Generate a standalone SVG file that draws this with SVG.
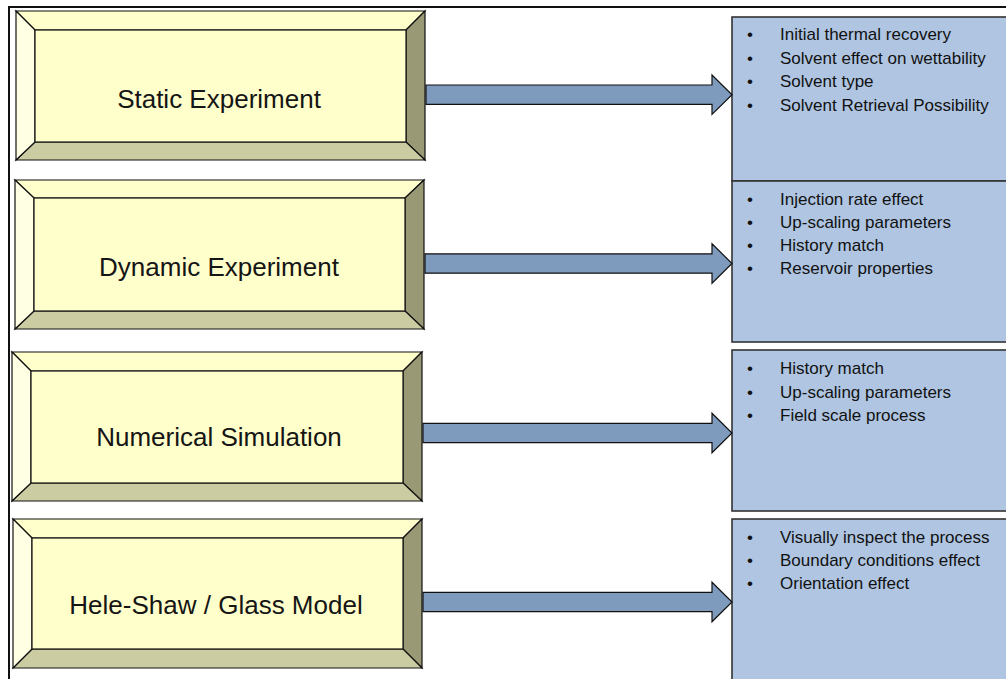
<svg xmlns="http://www.w3.org/2000/svg" width="1006" height="679" viewBox="0 0 1006 679">
<style>
.frame{stroke:#111;stroke-width:2;fill:none}
.bt{fill:#FFFFCC;stroke:#111;stroke-width:1.2;stroke-linejoin:miter}
.bl{fill:#FFFFE4;stroke:#111;stroke-width:1.2}
.br{fill:#999975;stroke:#111;stroke-width:1.2}
.bb{fill:#CCCCA3;stroke:#111;stroke-width:1.2}
.face{fill:#FFFFCC;stroke:#111;stroke-width:1.2}
.title{font-family:"Liberation Sans",Arial,sans-serif;font-size:26px;fill:#151515;text-anchor:middle}
.panel{fill:#AFC5E1;stroke:#333;stroke-width:1.6}
.item{font-family:"Liberation Sans",Arial,sans-serif;font-size:17px;fill:#111}
.arrow{fill:#7E9BBE;stroke:#111;stroke-width:1.2;stroke-linejoin:miter}
</style>
<rect width="1006" height="679" fill="#fff"/>
<path class="frame" d="M9,679 V7 H1006"/>

<g id="node-static">
<polygon class="bt" points="16,11 425,11 406,30 35,30"/>
<polygon class="br" points="425,11 425,160 406,142 406,30"/>
<polygon class="bb" points="16,160 425,160 406,142 35,142"/>
<polygon class="bl" points="16,11 35,30 35,142 16,160"/>
<rect class="face" x="35" y="30" width="371" height="112"/>
<text class="title" x="219" y="108">Static Experiment</text>
</g>

<g id="node-dynamic">
<polygon class="bt" points="15,180 424,180 405,198 34,198"/>
<polygon class="br" points="424,180 424,329 405,311 405,198"/>
<polygon class="bb" points="15,329 424,329 405,311 34,311"/>
<polygon class="bl" points="15,180 34,198 34,311 15,329"/>
<rect class="face" x="34" y="198" width="371" height="113"/>
<text class="title" x="219" y="276">Dynamic Experiment</text>
</g>

<g id="node-numerical">
<polygon class="bt" points="12,352 422,352 403,371 31,371"/>
<polygon class="br" points="422,352 422,501 403,483 403,371"/>
<polygon class="bb" points="12,501 422,501 403,483 31,483"/>
<polygon class="bl" points="12,352 31,371 31,483 12,501"/>
<rect class="face" x="31" y="371" width="372" height="112"/>
<text class="title" x="219" y="446">Numerical Simulation</text>
</g>

<g id="node-heleshaw">
<polygon class="bt" points="13,519 422,519 403,538 32,538"/>
<polygon class="br" points="422,519 422,668 403,649 403,538"/>
<polygon class="bb" points="13,668 422,668 403,649 32,649"/>
<polygon class="bl" points="13,519 32,538 32,649 13,668"/>
<rect class="face" x="32" y="538" width="371" height="111"/>
<text class="title" x="216" y="614">Hele-Shaw / Glass Model</text>
</g>

<g id="panel-static">
<rect class="panel" x="732" y="17" width="290" height="164"/>
<g class="item">
<text x="747" y="40">•</text><text x="780" y="40">Initial thermal recovery</text>
<text x="747" y="63.5">•</text><text x="780" y="63.5">Solvent effect on wettability</text>
<text x="747" y="87">•</text><text x="780" y="87">Solvent type</text>
<text x="747" y="110.5">•</text><text x="780" y="110.5">Solvent Retrieval Possibility</text>
</g>
</g>

<g id="panel-dynamic">
<rect class="panel" x="732" y="181" width="290" height="161"/>
<g class="item">
<text x="747" y="205">•</text><text x="780" y="205">Injection rate effect</text>
<text x="747" y="228">•</text><text x="780" y="228">Up-scaling parameters</text>
<text x="747" y="251">•</text><text x="780" y="251">History match</text>
<text x="747" y="274">•</text><text x="780" y="274">Reservoir properties</text>
</g>
</g>

<g id="panel-numerical">
<rect class="panel" x="732" y="350" width="290" height="161"/>
<g class="item">
<text x="747" y="374">•</text><text x="780" y="374">History match</text>
<text x="747" y="397.5">•</text><text x="780" y="397.5">Up-scaling  parameters</text>
<text x="747" y="420.5">•</text><text x="780" y="420.5">Field scale process</text>
</g>
</g>

<g id="panel-heleshaw">
<rect class="panel" x="732" y="519" width="290" height="180"/>
<g class="item">
<text x="747" y="543">•</text><text x="780" y="543">Visually inspect the process</text>
<text x="747" y="566">•</text><text x="780" y="566">Boundary conditions effect</text>
<text x="747" y="589">•</text><text x="780" y="589">Orientation effect</text>
</g>
</g>

<g id="connectors">
<polygon class="arrow" points="426,85 712,85 712,75 732,94.7 712,114.4 712,104.4 426,104.4"/>
<polygon class="arrow" points="425,253.8 712,253.8 712,243.8 732,263.5 712,283.2 712,273.2 425,273.2"/>
<polygon class="arrow" points="423,423.3 712,423.3 712,413.3 732,433 712,452.7 712,442.7 423,442.7"/>
<polygon class="arrow" points="423,592.3 712,592.3 712,582.3 732,602 712,621.7 712,611.7 423,611.7"/>
</g>
</svg>
